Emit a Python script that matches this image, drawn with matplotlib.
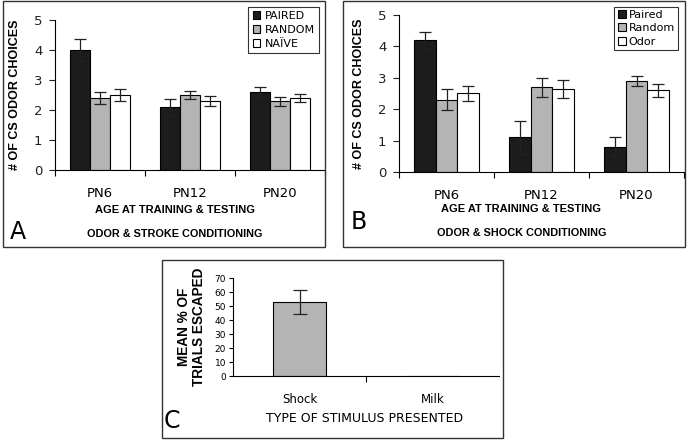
import numpy as np
import matplotlib
matplotlib.use("Agg")
import matplotlib.pyplot as plt
from matplotlib.patches import Rectangle

# data
ages = ["PN6", "PN12", "PN20"]

stroke_names = ["PAIRED", "RANDOM", "NAÏVE"]
stroke_paired = [4.0, 2.1, 2.6]
stroke_random = [2.4, 2.5, 2.3]
stroke_naive = [2.5, 2.3, 2.4]
stroke_paired_err = [0.38, 0.27, 0.18]
stroke_random_err = [0.2, 0.14, 0.15]
stroke_naive_err = [0.21, 0.16, 0.14]

shock_names = ["Paired", "Random", "Odor"]
shock_paired = [4.2, 1.1, 0.8]
shock_random = [2.3, 2.7, 2.9]
shock_odor = [2.5, 2.65, 2.6]
shock_paired_err = [0.27, 0.52, 0.3]
shock_random_err = [0.33, 0.3, 0.17]
shock_odor_err = [0.23, 0.28, 0.2]

stimuli = ["Shock", "Milk"]
escaped = [53, 0]
escaped_err = [8.7, 0]

colors = ["#1c1c1c", "#b4b4b4", "#ffffff"]
W, H = 688, 442

fig = plt.figure(figsize=(6.88, 4.42), dpi=100)


def box(x0, y0, x1, y1):
    # panel frame, given in pixels from top-left
    fig.patches.append(Rectangle((x0 / W, 1 - y1 / H), (x1 - x0) / W, (y1 - y0) / H,
                                 transform=fig.transFigure, fill=False,
                                 edgecolor="#333333", linewidth=1.0))


def txt(x, y, s, **kw):
    fig.text(x / W, 1 - y / H, s, ha="center", va="center", **kw)


def group_chart(ax, series, errs, names, ylabel):
    x = np.arange(len(ages))
    w = 0.225
    bars = []
    for i, (vals, ee) in enumerate(zip(series, errs)):
        b = ax.bar(x + (i - 1) * w, vals, w, color=colors[i], edgecolor="black",
                   linewidth=0.8, yerr=ee, capsize=4,
                   error_kw=dict(elinewidth=0.9, capthick=0.9, ecolor="#222222"),
                   label=names[i])
        bars.append(b)
    ax.set_xlim(-0.5, 2.5)
    ax.set_ylim(0, 5)
    ax.set_yticks(range(6))
    ax.tick_params(axis="y", labelsize=9.5, length=4, width=0.8, pad=5, colors="#222222")
    ax.set_xticks([-0.5, 0.5, 1.5, 2.5])
    ax.set_xticklabels([])
    ax.set_xticks(x, minor=True)
    ax.set_xticklabels(ages, minor=True, fontsize=9.5)
    ax.tick_params(axis="x", which="major", length=4, width=0.8)
    ax.tick_params(axis="x", which="minor", length=0, pad=12)
    for s in ["top", "right"]:
        ax.spines[s].set_visible(False)
    ax.spines["left"].set_linewidth(0.8)
    ax.spines["bottom"].set_linewidth(0.8)
    ax.set_ylabel(ylabel, fontsize=9, fontweight="bold", family="Liberation Sans", labelpad=9)
    return bars


# Panel A
box(3, 1, 325, 247)
axA = fig.add_axes([55 / W, 1 - 170 / H, 270 / W, 150 / H])
barsA = group_chart(axA, [stroke_paired, stroke_random, stroke_naive],
                    [stroke_paired_err, stroke_random_err, stroke_naive_err],
                    stroke_names, "# OF CS ODOR CHOICES")
txt(175, 210, "AGE AT TRAINING & TESTING", fontsize=8, fontweight="bold", family="Liberation Sans")
txt(175, 234, "ODOR & STROKE CONDITIONING", fontsize=7.8, fontweight="bold", family="Liberation Sans")
txt(18, 232, "A", fontsize=17)
legA = fig.legend(handles=barsA, loc="upper right", bbox_to_anchor=(325 / W, 1 - 1 / H),
                  fontsize=8, frameon=True, fancybox=False, handlelength=0.7,
                  handleheight=0.7, handletextpad=0.4, borderpad=0.4, labelspacing=0.35)
legA.get_frame().set_edgecolor("black")
legA.get_frame().set_linewidth(0.8)

# Panel B
box(343, 1, 685, 247)
axB = fig.add_axes([399 / W, 1 - 172 / H, 285 / W, 157 / H])
barsB = group_chart(axB, [shock_paired, shock_random, shock_odor],
                    [shock_paired_err, shock_random_err, shock_odor_err],
                    shock_names, "# OF CS ODOR CHOICES")
txt(521, 209, "AGE AT TRAINING & TESTING", fontsize=8, fontweight="bold", family="Liberation Sans")
txt(522, 233, "ODOR & SHOCK CONDITIONING", fontsize=7.8, fontweight="bold", family="Liberation Sans")
txt(359, 222, "B", fontsize=17)
legB = fig.legend(handles=barsB, loc="upper right", bbox_to_anchor=(684 / W, 1 - 1 / H),
                  fontsize=8, frameon=True, fancybox=False, handlelength=0.7,
                  handleheight=0.7, handletextpad=0.3, borderpad=0.3, labelspacing=0.3)
legB.get_frame().set_edgecolor("black")
legB.get_frame().set_linewidth(0.8)

# Panel C
box(162, 260, 503, 438)
axC = fig.add_axes([233 / W, 1 - 376 / H, 266 / W, 98 / H])
xc = np.arange(len(stimuli))
axC.bar(xc, escaped, 0.4, color=colors[1], edgecolor="black", linewidth=0.8,
        yerr=[e if e > 0 else np.nan for e in escaped_err], capsize=5,
        error_kw=dict(elinewidth=0.9, capthick=0.9, ecolor="#222222"))
axC.set_xlim(-0.5, 1.5)
axC.set_ylim(0, 70)
axC.set_yticks(range(0, 71, 10))
axC.tick_params(axis="y", labelsize=6.5, length=3, width=0.8, pad=2)
axC.set_xticks([0.5])
axC.set_xticklabels([])
axC.set_xticks(xc, minor=True)
axC.set_xticklabels(stimuli, minor=True, fontsize=8.5)
axC.tick_params(axis="x", which="major", length=4, width=0.8)
axC.tick_params(axis="x", which="minor", length=0, pad=12)
for s in ["top", "right"]:
    axC.spines[s].set_visible(False)
axC.set_ylabel("MEAN % OF\nTRIALS ESCAPED", fontsize=9.8, fontweight="bold",
               family="Liberation Sans", labelpad=6, linespacing=1.1)
txt(365, 418, "TYPE OF STIMULUS PRESENTED", fontsize=9)
txt(172, 421, "C", fontsize=17)

fig.savefig("out.png", dpi=100)
